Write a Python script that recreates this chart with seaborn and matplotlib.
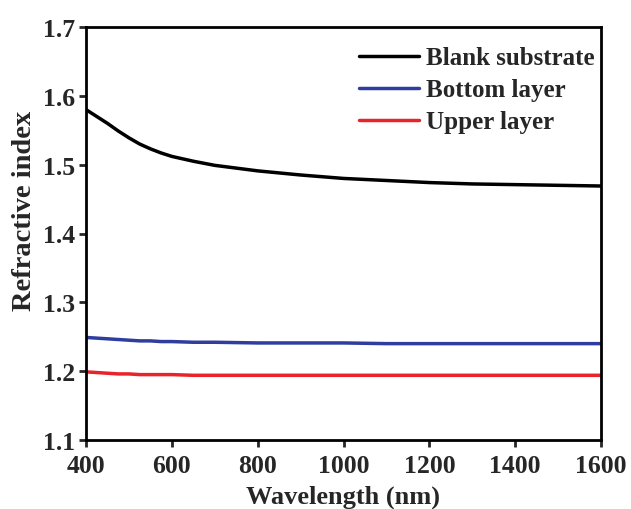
import numpy as np
import pandas as pd
import matplotlib
matplotlib.use("Agg")
import matplotlib.pyplot as plt
import seaborn as sns

wavelength = [400, 425, 450, 475, 500, 525, 550, 575, 600, 650, 700, 800, 900, 1000, 1100, 1200, 1300, 1400, 1500, 1600]
blank = [1.580, 1.570, 1.560, 1.549, 1.539, 1.530, 1.523, 1.517, 1.512, 1.505, 1.499, 1.491, 1.485, 1.480, 1.477, 1.474, 1.472, 1.471, 1.470, 1.469]
bottom = [1.249, 1.248, 1.247, 1.246, 1.245, 1.244, 1.244, 1.243, 1.243, 1.242, 1.242, 1.241, 1.241, 1.241, 1.240, 1.240, 1.240, 1.240, 1.240, 1.240]
upper = [1.199, 1.198, 1.197, 1.196, 1.196, 1.195, 1.195, 1.195, 1.195, 1.194, 1.194, 1.194, 1.194, 1.194, 1.194, 1.194, 1.194, 1.194, 1.194, 1.194]
series = ["Blank substrate", "Bottom layer", "Upper layer"]
colors = ["#000000", "#2e3d9e", "#e8232a"]

df = pd.concat([
    pd.DataFrame({"Wavelength": wavelength, "n": vals, "Series": name})
    for name, vals in zip(series, [blank, bottom, upper])
])

sns.set_theme(style="ticks")
plt.rcParams['font.family'] = ['Liberation Serif', 'DejaVu Serif']
plt.rcParams['font.weight'] = 'bold'

fig = plt.figure(figsize=(6.31, 5.10), dpi=100)
ax = fig.add_axes([86/631, 1 - 441/510, (601-86)/631, (441-28)/510])
sns.lineplot(data=df, x="Wavelength", y="n", hue="Series", palette=colors,
             hue_order=series, linewidth=2.5, ax=ax)

ax.set_xlim(400, 1600)
ax.set_ylim(1.1, 1.7)
ax.set_xticks([400, 600, 800, 1000, 1200, 1400, 1600])
ax.set_yticks([1.1, 1.2, 1.3, 1.4, 1.5, 1.6, 1.7])
ax.set_yticklabels(["1.1", "1.2", "1.3", "1.4", "1.5", "1.6", "1.7"])
ax.tick_params(axis="both", direction="out", length=5, width=2, labelsize=18.5)
ax.tick_params(axis="x", pad=5)
ax.tick_params(axis="y", pad=3)
for lab in ax.get_xticklabels() + ax.get_yticklabels():
    lab.set_fontweight("bold")
for sp in ax.spines.values():
    sp.set_linewidth(2)
    sp.set_color("black")
ax.set_xlabel("Wavelength (nm)", fontsize=19, fontweight="bold")
ax.xaxis.set_label_coords(0.5, -0.152)
ax.xaxis.label.set_va("baseline")
ax.set_ylabel("Refractive index", fontsize=20.5, fontweight="bold")
ax.yaxis.set_label_coords(-0.12, 0.557)
ax.yaxis.label.set_va("center")

leg = ax.legend(loc="upper right", frameon=False, fontsize=18, handlelength=2.4,
                handletextpad=0.3, borderaxespad=0.0, borderpad=0.0, labelspacing=0.36,
                bbox_to_anchor=(0.988, 0.953))
for t in leg.get_texts():
    t.set_fontweight("bold")
for l in leg.get_lines():
    l.set_linewidth(2.5)

fig.savefig("out.png", dpi=100)
